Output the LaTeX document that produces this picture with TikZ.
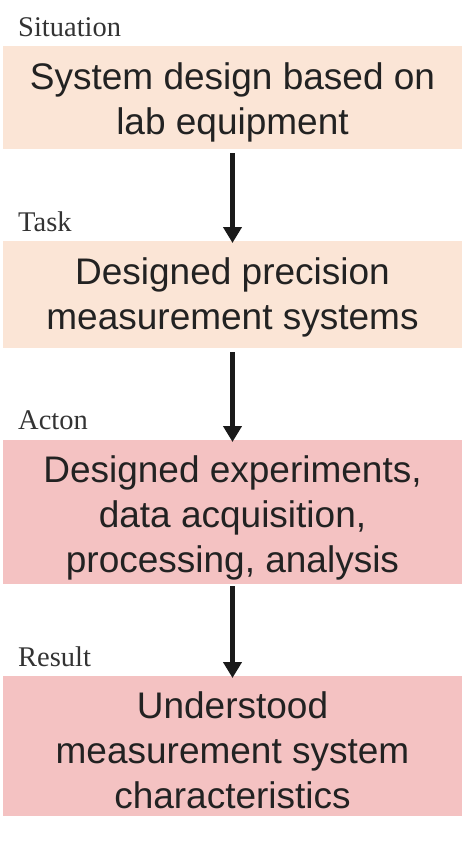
\documentclass[tikz,border=0pt]{standalone}
\usepackage{fontspec}
\setmainfont{Liberation Serif}
\newfontfamily\boxfont{Liberation Sans}
\usetikzlibrary{arrows.meta}
\definecolor{peach}{HTML}{FBE5D6}
\definecolor{pinkish}{HTML}{F4C2C2}
\definecolor{txt}{HTML}{222222}
\definecolor{lbl}{HTML}{333333}
\definecolor{arr}{HTML}{1A1A1A}
\begin{document}
\begin{tikzpicture}[x=1pt,y=-1pt,
  boxshape/.style={rectangle,inner sep=0pt,draw=none,minimum width=459pt},
  boxtext/.style={font=\boxfont\fontsize{37}{45}\selectfont,text=txt,align=center,inner sep=0pt,anchor=base},
  steplabel/.style={font=\fontsize{28.5}{34}\selectfont,text=lbl,inner sep=0pt,anchor=base west},
  flow/.style={draw=arr,line width=5pt,-{Triangle[width=18pt,length=16pt]}}]
\useasboundingbox (0,0) rectangle (471,842);
% boxes
\node[boxshape,fill=peach,minimum height=103pt,anchor=north] (b1) at (232.5,46) {};
\node[boxshape,fill=peach,minimum height=107pt,anchor=north] (b2) at (232.5,241) {};
\node[boxshape,fill=pinkish,minimum height=144pt,anchor=north] (b3) at (232.5,440) {};
\node[boxshape,fill=pinkish,minimum height=140pt,anchor=north] (b4) at (232.5,676) {};
% texts
\node[boxtext] (t1) at (232.5,135) {System design based on\\lab equipment};
\node[boxtext] (t2) at (232.5,329) {Designed precision\\measurement systems};
\node[boxtext] (t3) at (232.5,572) {Designed experiments,\\data acquisition,\\processing, analysis};
\node[boxtext] (t4) at (232.5,808) {Understood\\measurement system\\characteristics};
% labels
\node[steplabel] (l1) at (18,37) {Situation};
\node[steplabel] (l2) at (18,231) {Task};
\node[steplabel] (l3) at (18,429) {Acton};
\node[steplabel] (l4) at (18,666) {Result};
% arrows
\draw[flow] ([yshift=-4pt]b1.south) -- ([yshift=-2pt]b2.north);
\draw[flow] ([yshift=-4pt]b2.south) -- ([yshift=-2pt]b3.north);
\draw[flow] ([yshift=-2pt]b3.south) -- ([yshift=-2pt]b4.north);
\end{tikzpicture}
\end{document}
